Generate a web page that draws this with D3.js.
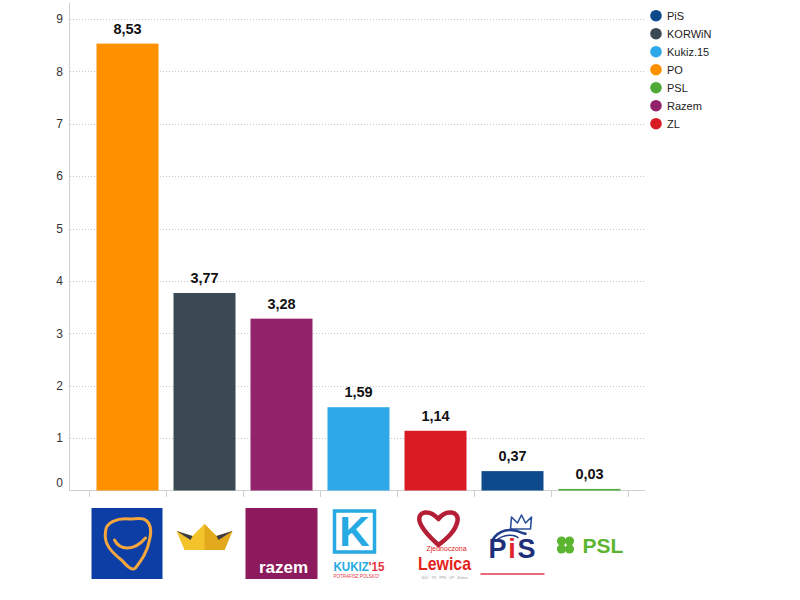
<!DOCTYPE html>
<html><head><meta charset="utf-8">
<script src="https://cdn.jsdelivr.net/npm/d3@7"></script>
<style>
body{margin:0;background:#fff;}
text{font-family:"Liberation Sans",Arial,sans-serif;}
</style></head><body>
<svg id="chart" width="800" height="600"></svg>
<script>
const parties = ["PO","KORWiN","Razem","Kukiz.15","ZL","PiS","PSL"];
const values  = [8.53, 3.77, 3.28, 1.59, 1.14, 0.37, 0.03];
const valueLabels = ["8,53","3,77","3,28","1,59","1,14","0,37","0,03"];
const legendOrder = ["PiS","KORWiN","Kukiz.15","PO","PSL","Razem","ZL"];
const colors = {"PiS":"#0d4a8b","KORWiN":"#3b4a52","Kukiz.15":"#2ea8e9","PO":"#ff9100","PSL":"#4fab38","Razem":"#922269","ZL":"#d91c24"};
const yTicks = [0,1,2,3,4,5,6,7,8,9];

const svg = d3.select("#chart");
const y = d3.scaleLinear().domain([0,9]).range([490.5,19]);
const x = d3.scaleBand().domain(parties).range([89,628]).paddingInner(0.195).paddingOuter(0.0975);

// grid
svg.append("g").selectAll("line").data(yTicks.filter(d=>d>0)).join("line")
  .attr("x1",70).attr("x2",645).attr("y1",d=>Math.round(y(d))+0.5).attr("y2",d=>Math.round(y(d))+0.5)
  .attr("stroke","#c8c8c8").attr("stroke-dasharray","1,2");
// y axis line
svg.append("line").attr("x1",69.5).attr("x2",69.5).attr("y1",3).attr("y2",491).attr("stroke","#d0d0d0");
// baseline
svg.append("line").attr("x1",69).attr("x2",645).attr("y1",490.5).attr("y2",490.5).attr("stroke","#d0d0d0");
// y labels
svg.append("g").selectAll("text").data(yTicks).join("text")
  .attr("x",63).attr("y",d=> d===0 ? y(d)-8 : y(d))
  .attr("dy","0.35em").attr("text-anchor","end").attr("font-size",12).attr("fill","#333")
  .text(d=>d);
// x ticks at band boundaries
const half = (x.step()-x.bandwidth())/2;
const bounds = parties.map(p=>x(p)-half).concat([x(parties[parties.length-1])+x.bandwidth()+half]);
svg.append("g").selectAll("line").data(bounds).join("line")
  .attr("x1",d=>Math.round(d)+0.5).attr("x2",d=>Math.round(d)+0.5).attr("y1",491).attr("y2",497)
  .attr("stroke","#d0d0d0");

// bars
svg.append("g").selectAll("rect").data(parties).join("rect")
  .attr("x",d=>x(d)).attr("width",x.bandwidth())
  .attr("y",(d,i)=>y(values[i])).attr("height",(d,i)=>y(0)-y(values[i]))
  .attr("fill",d=>colors[d]);
// value labels
svg.append("g").selectAll("text").data(parties).join("text")
  .attr("x",d=>x(d)+x.bandwidth()/2).attr("y",(d,i)=>y(values[i])-10)
  .attr("text-anchor","middle").attr("font-size",14.5).attr("font-weight","bold").attr("fill","#111")
  .text((d,i)=>valueLabels[i]);

// legend
const lg = svg.append("g").selectAll("g").data(legendOrder).join("g")
  .attr("transform",(d,i)=>`translate(656,${15.7+18*i})`);
lg.append("circle").attr("r",5.8).attr("fill",d=>colors[d]);
lg.append("text").attr("x",11).attr("dy","0.35em").attr("font-size",11).attr("fill","#222").text(d=>d);

// logos
const cx = p => x(p)+x.bandwidth()/2;
function logo(p){ return svg.append("g").attr("transform",`translate(${cx(p)},0)`); }

// PO
{ const g = logo("PO");
  g.append("rect").attr("x",-36).attr("y",508).attr("width",71).attr("height",71).attr("fill","#0c3ea6");
  g.append("path").attr("d","M-22,532 C-22,522 -10,518 2,519 C8,519 14,517 18,520 C24,524 24,532 22,540 C20,552 14,560 8,568 C4,572 -2,564 -6,560 C-16,552 -24,544 -22,532 Z")
    .attr("fill","none").attr("stroke","#f5a63c").attr("stroke-width",3).attr("stroke-linejoin","round");
  g.append("path").attr("d","M-13,540 C-8,550 6,552 18,538").attr("fill","none").attr("stroke","#f5a63c").attr("stroke-width",3).attr("stroke-linecap","round");
}
// KORWiN crown
{ const g = logo("KORWiN");
  g.append("path").attr("d","M-28,531 L-12,536 L0,524 L12,536 L28,531 L20,550 L-20,550 Z").attr("fill","#f4c22b");
  g.append("path").attr("d","M0,524 L12,536 L28,531 L20,550 L0,550 Z").attr("fill","#e2a91d");
  g.append("path").attr("d","M-28,531 L-12,536 L-14,540 Z").attr("fill","#3a3d48");
  g.append("path").attr("d","M28,531 L12,536 L14,540 Z").attr("fill","#3a3d48");
}
// Razem
{ const g = logo("Razem");
  g.append("rect").attr("x",-36).attr("y",508).attr("width",72).attr("height",71).attr("fill","#8d1a5c");
  g.append("text").attr("x",2).attr("y",573).attr("text-anchor","middle").attr("font-size",17).attr("font-weight","bold").attr("fill","#fff").text("razem");
}
// Kukiz
{ const g = logo("Kukiz.15");
  g.append("rect").attr("x",-24).attr("y",511).attr("width",40).attr("height",41).attr("fill","none").attr("stroke","#27a9e1").attr("stroke-width",3.5);
  g.append("text").attr("x",-4).attr("y",546).attr("text-anchor","middle").attr("font-size",42).attr("font-weight","bold").attr("fill","#27a9e1").text("K");
  const t = g.append("text").attr("x",-25).attr("y",571).attr("font-size",12).attr("font-weight","bold").attr("fill","#27a9e1").attr("textLength",51).attr("lengthAdjust","spacingAndGlyphs");
  t.append("tspan").text("KUKIZ");
  t.append("tspan").attr("fill","#e5333f").text("'15");
  g.append("text").attr("x",-25).attr("y",578).attr("font-size",4.5).attr("fill","#e5333f").attr("textLength",46).text("POTRAFISZ POLSKO!");
}
// Lewica
{ const g = logo("ZL");
  g.append("path").attr("d","M3,545 C-6,537 -14,529 -16,521 C-18,511 -6,509 3,519 C10,509 24,511 22,521 C20,531 12,538 3,545 Z")
    .attr("fill","none").attr("stroke","#b51f35").attr("stroke-width",4.5).attr("stroke-linejoin","round");
  g.append("text").attr("x",-9).attr("y",551).attr("font-size",7).attr("fill","#e2231a").text("Zjednoczona");
  g.append("text").attr("x",9).attr("y",570).attr("text-anchor","middle").attr("font-size",19).attr("font-weight","bold").attr("fill","#e2231a").attr("textLength",53).attr("lengthAdjust","spacingAndGlyphs").text("Lewica");
  g.append("text").attr("x",9).attr("y",578.5).attr("text-anchor","middle").attr("font-size",3.5).attr("fill","#999").text("SLD · TR · PPS · UP · Zieloni");
}
// PiS
{ const g = logo("PiS");
  g.append("path").attr("d","M-2,529 L-1,517 L5,523 L9,515 L13,523 L19,517 L18,529 Z").attr("fill","none").attr("stroke","#2a4f9a").attr("stroke-width",1.6).attr("stroke-linejoin","round");
  g.append("path").attr("d","M-20,540 C-14,530 -2,527 10,533 L14,534").attr("fill","none").attr("stroke","#1f3d8c").attr("stroke-width",2.5);
  g.append("path").attr("d","M-16,540 C-8,534 2,534 6,538").attr("fill","none").attr("stroke","#1f3d8c").attr("stroke-width",1.5);
  const t = g.append("text").attr("x",-24).attr("y",558).attr("font-family","'Liberation Serif','DejaVu Serif',serif").attr("font-size",27).attr("font-weight","bold").attr("fill","#1f2f7a").attr("textLength",47).attr("lengthAdjust","spacing");
  t.append("tspan").text("P");
  t.append("tspan").attr("fill","#e0242f").text("i");
  t.append("tspan").text("S");
  g.append("rect").attr("x",-32).attr("y",573).attr("width",64).attr("height",2).attr("fill","#e86b7c");
}
// PSL
{ const g = logo("PSL");
  const cl = g.append("g").attr("transform","translate(-24,545)");
  [[-4,-4],[4,-4],[-4,4],[4,4]].forEach(([a,b])=>cl.append("circle").attr("cx",a).attr("cy",b).attr("r",4.6).attr("fill","#5cb531"));
  g.append("text").attr("x",-7).attr("y",553).attr("font-size",21).attr("font-weight","bold").attr("fill","#5cb531").text("PSL");
}
</script>
</body></html>
